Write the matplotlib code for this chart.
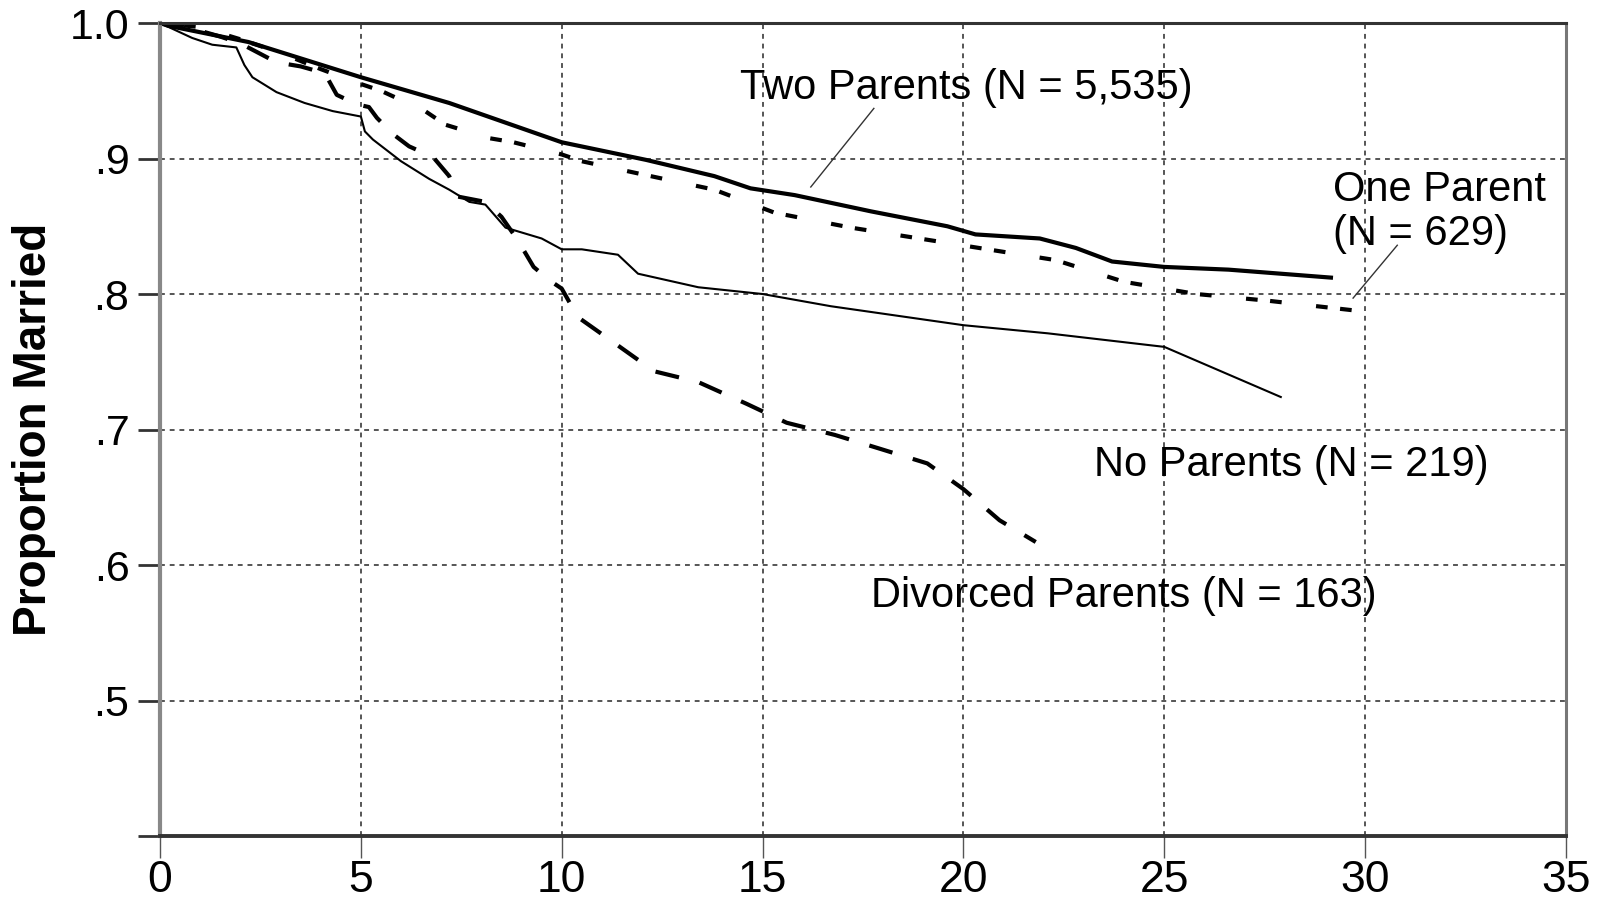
import matplotlib.pyplot as plt

# Kaplan-Meier style curves
two_x = [0, 0.2, 2.2, 5.0, 7.2, 10.0, 12.1, 13.8, 14.7, 15.8, 17.7, 19.6, 20.3,
         21.9, 22.8, 23.7, 25.0, 26.6, 29.2]
two_y = [1.0, 0.998, 0.986, 0.960, 0.941, 0.912, 0.899, 0.887, 0.878, 0.873,
         0.861, 0.850, 0.844, 0.841, 0.834, 0.824, 0.820, 0.818, 0.812]

one_x = [0, 1.0, 2.0, 3.0, 4.0, 5.0, 5.5, 6.6, 7.1, 8.2, 8.8, 10.0, 10.5, 11.9,
         13.8, 15.3, 17.2, 18.9, 20.6, 22.3, 24.0, 25.8, 27.6, 29.7]
one_y = [1.0, 0.997, 0.988, 0.978, 0.966, 0.955, 0.950, 0.935, 0.925, 0.915,
         0.912, 0.903, 0.898, 0.889, 0.877, 0.860, 0.849, 0.841, 0.833, 0.825,
         0.809, 0.800, 0.795, 0.788]

no_x = [0, 0.8, 1.3, 1.9, 2.1, 2.3, 2.9, 3.6, 4.3, 5.0, 5.1, 5.3, 6.0, 6.7, 7.2,
        7.7, 8.1, 8.6, 9.5, 10.0, 10.5, 11.4, 11.9, 12.5, 13.4, 15.0, 16.7,
        20.0, 22.1, 25.0, 27.9]
no_y = [1.0, 0.989, 0.984, 0.982, 0.969, 0.960, 0.949, 0.941, 0.935, 0.931,
        0.920, 0.914, 0.898, 0.885, 0.877, 0.868, 0.866, 0.849, 0.841, 0.833,
        0.833, 0.829, 0.815, 0.811, 0.805, 0.800, 0.791, 0.777, 0.771, 0.761,
        0.724]

div_x = [0, 0.8, 1.5, 2.0, 2.9, 3.5, 4.1, 4.4, 4.9, 5.2, 5.4, 5.8, 6.2, 6.8, 7.2,
         7.4, 8.1, 8.5, 8.9, 9.3, 9.7, 10.0, 10.4, 11.4, 12.3, 13.4, 14.6,
         15.6, 16.8, 17.9, 19.1, 20.0, 20.9, 21.8]
div_y = [1.0, 0.996, 0.990, 0.985, 0.971, 0.968, 0.963, 0.947, 0.940, 0.938,
         0.930, 0.918, 0.909, 0.901, 0.887, 0.872, 0.868, 0.857, 0.840, 0.820,
         0.810, 0.804, 0.783, 0.762, 0.743, 0.735, 0.719, 0.705, 0.696, 0.686,
         0.675, 0.656, 0.633, 0.617]

x_ticks = [0, 5, 10, 15, 20, 25, 30, 35]
y_ticks = [0.4, 0.5, 0.6, 0.7, 0.8, 0.9, 1.0]
y_tick_labels = ['', '.5', '.6', '.7', '.8', '.9', '1.0']

plt.rcParams['font.family'] = ['Liberation Sans', 'DejaVu Sans']

fig = plt.figure(figsize=(16.05, 9), dpi=100)
ax = fig.add_axes([0.0997, 0.0711, 0.876, 0.9033])

ax.plot(two_x, two_y, color='black', lw=3.0, solid_capstyle='butt')
ax.plot(one_x, one_y, color='black', lw=3.0, dashes=(2.8, 3.0, 2.8, 8.3))
ax.plot(no_x, no_y, color='black', lw=1.5)
ax.plot(div_x, div_y, color='black', lw=3.0, dashes=(5.8, 5.1))

ax.set_xlim(0, 35)
ax.set_ylim(0.4, 1.0)
ax.set_xticks(x_ticks)
ax.set_xticklabels([str(t) for t in x_ticks], fontsize=32)
ax.set_yticks(y_ticks)
ax.set_yticklabels(y_tick_labels, fontsize=31)
ax.tick_params(axis='x', direction='out', length=16, width=1.0, color='#555555', pad=1)
ax.tick_params(axis='y', direction='out', length=16, width=2.0, color='#333333', pad=6)

ax.grid(True, color='#555555', linestyle=(0, (2.5, 2.5)), linewidth=1.4)
ax.set_axisbelow(True)

for side, col, w in [('top', '#333333', 2.2), ('right', '#777777', 2.2),
                     ('left', '#888888', 3.0), ('bottom', '#333333', 2.8)]:
    ax.spines[side].set_color(col)
    ax.spines[side].set_linewidth(w)

ax.set_ylabel('Proportion Married', fontsize=33, fontweight='bold', labelpad=10)

ax.text(14.43, 0.952, 'Two Parents (N = 5,535)', fontsize=30, va='center', ha='left')
ax.text(29.19, 0.877, 'One Parent', fontsize=30, va='center', ha='left')
ax.text(29.19, 0.844, '(N = 629)', fontsize=30, va='center', ha='left')
ax.text(23.24, 0.674, 'No Parents (N = 219)', fontsize=30, va='center', ha='left')
ax.text(17.69, 0.577, 'Divorced Parents (N = 163)', fontsize=30, va='center', ha='left')

ax.plot([17.77, 16.2], [0.937, 0.879], color='#333333', lw=1.0)
ax.plot([30.8, 29.7], [0.836, 0.797], color='#333333', lw=1.0)

fig.savefig('out.png', dpi=100)
